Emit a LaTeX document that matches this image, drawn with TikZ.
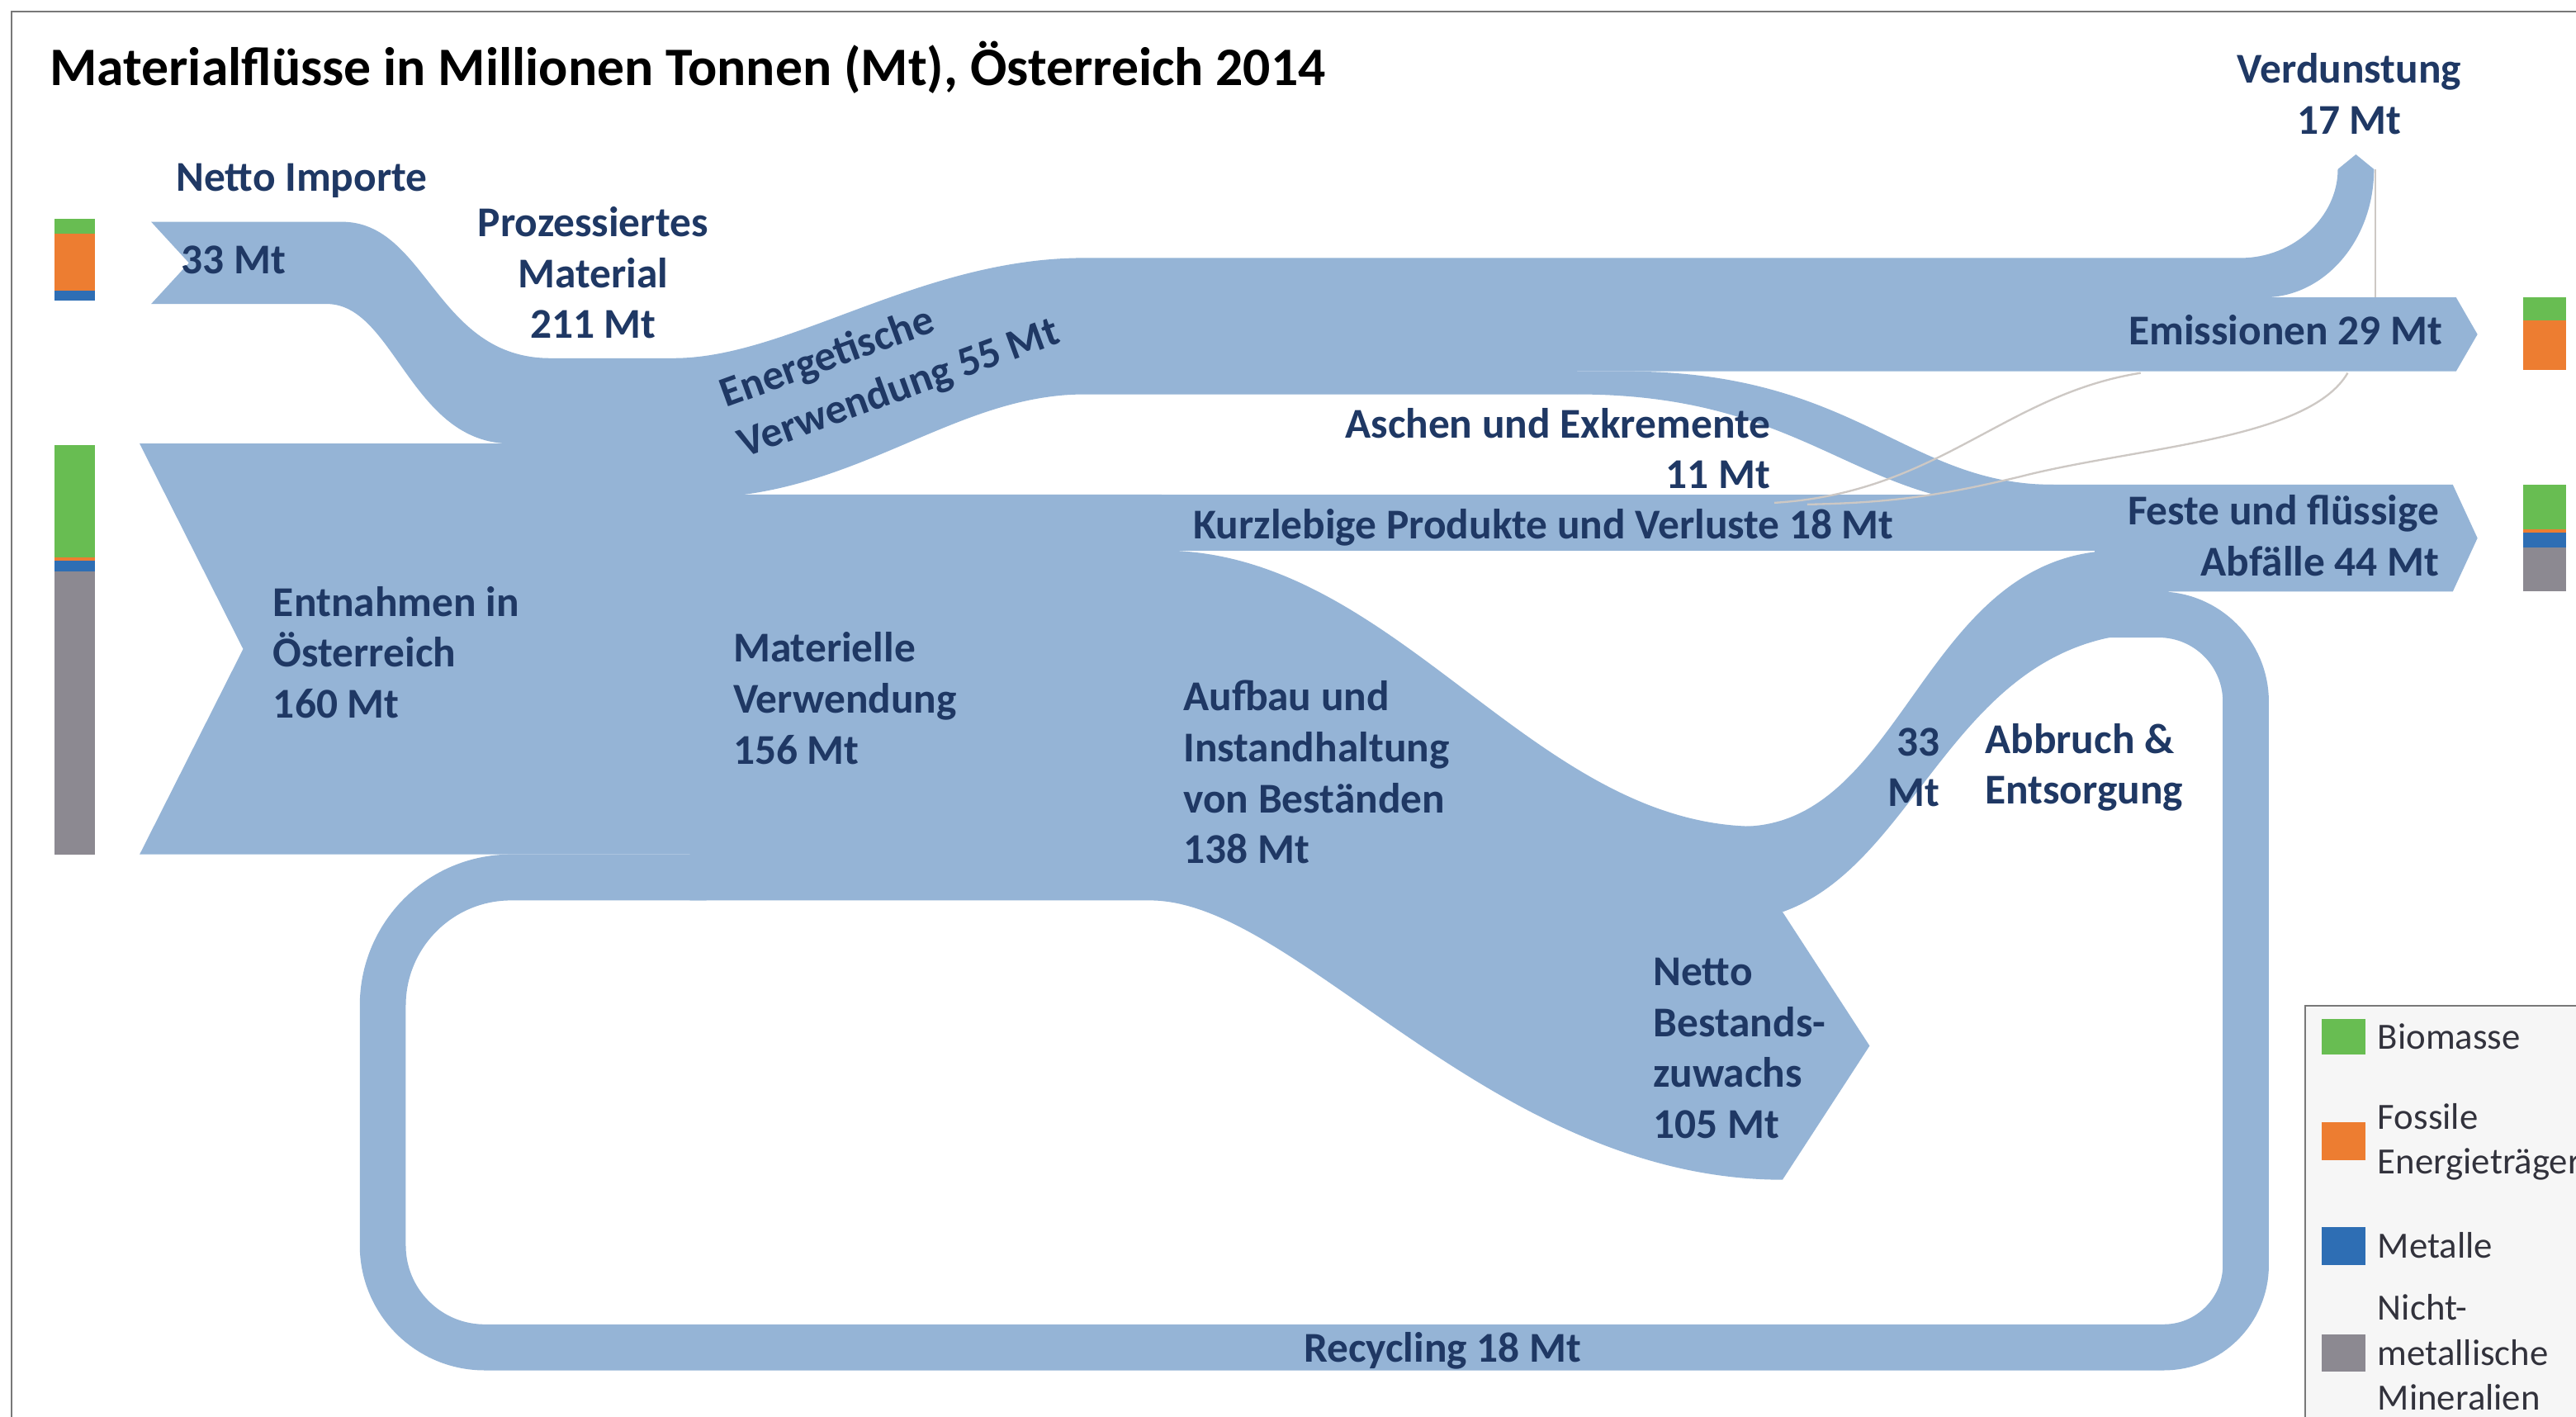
\documentclass[tikz,border=0pt]{standalone}
\usepackage{fontspec}
\setmainfont{Carlito}
\definecolor{flowc}{RGB}{149,180,214}
\definecolor{navy}{RGB}{31,56,100}
\definecolor{bgreen}{RGB}{104,189,82}
\definecolor{forange}{RGB}{237,125,49}
\definecolor{mblue}{RGB}{46,110,180}
\definecolor{ngray}{RGB}{140,137,145}
\definecolor{thinc}{RGB}{205,200,196}
\definecolor{legtxt}{RGB}{50,50,60}
\definecolor{legbg}{RGB}{246,246,246}
\definecolor{framec}{RGB}{120,120,120}
\tikzset{
  flow/.style={fill=flowc, draw=none},
  flowline/.style={draw=flowc, line width=16.8pt},
  thinl/.style={draw=thinc, line width=0.7pt},
  lbl/.style={font=\bfseries\fontsize{15.5}{18.6}\selectfont, text=navy, inner sep=0pt},
  leg/.style={font=\fontsize{13.5}{16.3}\selectfont, text=legtxt, inner sep=0pt, anchor=west, align=left},
}
\begin{document}
\begin{tikzpicture}[x=0.6pt,y=-0.6pt]
\useasboundingbox (0,0) rectangle (1568,862);
\clip (0,0) rectangle (1568,862);
\fill[white] (0,0) rectangle (1568,862);

% frame
\draw[framec, line width=0.8pt] (7,870) -- (7,7) -- (1575,7);

% recycling loop
\draw[flowline] (1280,374) -- (1314,374) arc[start angle=-90,end angle=0,radius=53]
  -- (1367,770) arc[start angle=0,end angle=90,radius=50]
  -- (295,820) arc[start angle=90,end angle=180,radius=62]
  -- (233,612) arc[start angle=180,end angle=270,radius=78]
  -- (430,534);

% central flow: extraction, material use, stock build-up, net addition
\fill[flow] (85,270) -- (330,270) -- (330,301) -- (707,301) -- (707,335)
  .. controls (850,335) and (932,503) .. (1070,503) -- (1085,555) -- (1138,636.5) -- (1085,718)
  .. controls (908,718) and (790,548) .. (700,548) -- (420,548) -- (420,520) -- (85,520) -- (148,395) -- cycle;

% imports + energetic use + evaporation + emissions
\fill[flow] (92,135) -- (208,135) .. controls (260,135) and (265,218) .. (335,218) -- (410,218)
  .. controls (480,218) and (560,157) .. (660,157) -- (1364,157)
  .. controls (1396,157) and (1423,132) .. (1423,103) -- (1434,94) -- (1445,103)
  .. controls (1445,146) and (1415,181) .. (1378,181) -- (1495,181) -- (1508,203.5) -- (1495,226)
  -- (960,226) -- (960,240) -- (660,240) .. controls (580,240) and (520,303) .. (423,303)
  -- (320,303) -- (311,270) .. controls (250,270) and (240,185) .. (199,185) -- (92,185) -- (115,160) -- cycle;

% ashes and excrements
\fill[flow] (960,226) -- (990,226) .. controls (1130,226) and (1160,295) .. (1250,295) -- (1250,308) -- (1230,308)
  .. controls (1130,308) and (1100,240) .. (960,240) -- cycle;

% short-lived products
\fill[flow] (690,301) rectangle (1300,335);

% waste arrow
\fill[flow] (1240,295) -- (1493,295) -- (1508,327.5) -- (1493,360) -- (1275,360) -- (1275,335) -- (1240,335) -- cycle;

% demolition & disposal
\fill[flow] (1060,503) .. controls (1160,503) and (1170,335) .. (1290,335) -- (1320,335) -- (1320,385) -- (1314,385)
  .. controls (1190,385) and (1170,525) .. (1085,555) -- cycle;

% thin grey lines
\draw[thinl] (1446,103) -- (1446,181);
\draw[thinl] (1303,227) .. controls (1220,240) and (1180,300) .. (1080,306);
\draw[thinl] (1429,227) .. controls (1405,268) and (1300,272) .. (1230,290) .. controls (1180,302) and (1150,306) .. (1100,307);

% colour bars left
\fill[bgreen] (33,133) rectangle (58,142);
\fill[forange] (33,142) rectangle (58,177);
\fill[mblue] (33,177) rectangle (58,183);
\fill[bgreen] (33,271) rectangle (58,339);
\fill[forange] (33,339) rectangle (58,341);
\fill[mblue] (33,341) rectangle (58,348);
\fill[ngray] (33,348) rectangle (58,520);
% colour bars right
\fill[bgreen] (1536,181) rectangle (1562,195);
\fill[forange] (1536,195) rectangle (1562,225);
\fill[bgreen] (1536,295) rectangle (1562,322);
\fill[forange] (1536,322) rectangle (1562,324);
\fill[mblue] (1536,324) rectangle (1562,333);
\fill[ngray] (1536,333) rectangle (1562,360);

% legend
\fill[legbg] (1403,612) rectangle (1575,870);
\draw[framec, line width=0.6pt] (1403,870) -- (1403,612) -- (1575,612);
\fill[bgreen] (1413,620) rectangle (1440,642);
\fill[forange] (1413,683) rectangle (1440,706);
\fill[mblue] (1413,747) rectangle (1440,770);
\fill[ngray] (1413,812) rectangle (1440,835);
\node[leg] (lbio) at (1447,631) {Biomasse};
\node[leg] (lfos) at (1447,695) {Fossile\\Energieträger};
\node[leg] (lmet) at (1447,758) {Metalle};
\node[leg] (lmin) at (1447,823) {Nicht-\\metallische\\Mineralien};

% labels
\node[inner sep=0pt, anchor=west, font=\bfseries\fontsize{19.8}{24}\selectfont] (title) at (30,41) {Materialflüsse in Millionen Tonnen (Mt), Österreich 2014};
\node[lbl, anchor=west] (imp) at (107,110) {Netto Importe};
\node[lbl, anchor=west] (impv) at (110,158) {33 Mt};
\node[lbl, align=center] (proz) at (361,166) {Prozessiertes\\Material\\211 Mt};
\node[lbl, rotate=20, anchor=west, align=left, font=\bfseries\fontsize{15.5}{19.5}\selectfont] (energ) at (445,257) {Energetische\\Verwendung 55 Mt};
\node[lbl, align=center] (verd) at (1430,57) {Verdunstung\\17 Mt};
\node[lbl, anchor=east] (emis) at (1487,201) {Emissionen 29 Mt};
\node[lbl, anchor=east, align=right] (asch) at (1078,273) {Aschen und Exkremente\\11 Mt};
\node[lbl, anchor=west] (kurz) at (726,321) {Kurzlebige Produkte und Verluste 18 Mt};
\node[lbl, anchor=east, align=right] (abf) at (1485,326) {Feste und flüssige\\Abfälle 44 Mt};
\node[lbl, anchor=west, align=left] (entn) at (166,397) {Entnahmen in\\Österreich\\160 Mt};
\node[lbl, anchor=west, align=left] (mat) at (446,425) {Materielle\\Verwendung\\156 Mt};
\node[lbl, anchor=west, align=left] (aufb) at (720,470) {Aufbau und\\Instandhaltung\\von Beständen\\138 Mt};
\node[lbl, anchor=east, align=right] (abbv) at (1181,467) {33\\Mt};
\node[lbl, anchor=west, align=left] (abb) at (1208,467) {Abbruch \&\\Entsorgung};
\node[lbl, anchor=west, align=left] (netto) at (1006,638) {Netto\\Bestands-\\zuwachs\\105 Mt};
\node[lbl] (recy) at (878,822) {Recycling 18 Mt};
\end{tikzpicture}
\end{document}
